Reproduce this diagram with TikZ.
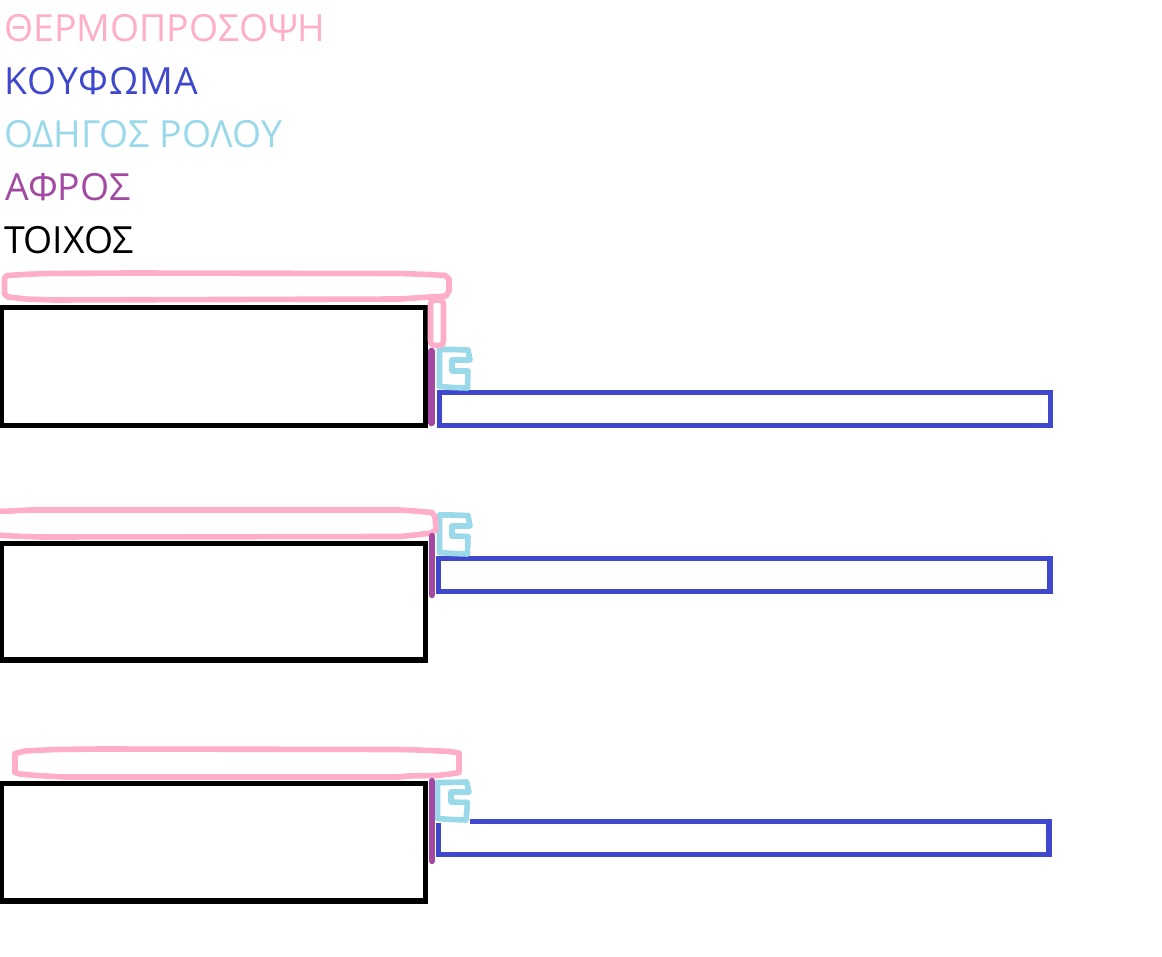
\documentclass[tikz,border=0pt]{standalone}
\usepackage{fontspec}
\setmainfont{Open Sans}
\definecolor{cpink}{HTML}{FFAEC9}
\definecolor{cblue}{HTML}{3F48CC}
\definecolor{ccyan}{HTML}{99D9EA}
\definecolor{cpurple}{HTML}{A349A4}
\tikzset{
  lbl/.style={anchor=base west,inner sep=0pt,font=\fontsize{37.4}{37.4}\selectfont},
  wall/.style={draw=black,line width=5.2pt},
  frameline/.style={draw=cblue,line width=5.2pt,miter limit=10},
  guide/.style={draw=ccyan,line width=5.6pt,line join=round},
  foam/.style={draw=cpurple,line width=6.5pt,line cap=round},
  facade/.style={draw=cpink,line width=5.6pt,line join=round},
}
\begin{document}
\begin{tikzpicture}[x=1pt,y=-1pt]
\fill[white,use as bounding box] (0,0) rectangle (1162,957);
\node[lbl,text=cpink] (t1) at (4,42) {ΘΕΡΜΟΠΡΟΣΟΨΗ};
\node[lbl,text=cblue] (t2) at (4,95) {\addfontfeature{LetterSpace=3}ΚΟΥΦΩΜΑ};
\node[lbl,text=ccyan] (t3) at (4,148) {ΟΔΗΓΟΣ ΡΟΛΟΥ};
\node[lbl,text=cpurple] (t4) at (5,201) {ΑΦΡΟΣ};
\node[lbl,text=black] (t5) at (4,253.5) {ΤΟΙΧΟΣ};
% walls
\draw[wall] (1.5,307.5) rectangle (425.5,425.5);
\draw[wall] (1.5,543.5) rectangle (425.5,660);
\draw[wall] (1.5,783.5) rectangle (425.5,901);
% frames
\draw[frameline] (439.5,392.5) rectangle (1050.5,425.5);
\draw[frameline] (438.5,558.5) rectangle (1050,591.5);
\draw[frameline] (470,821.5) -- (1049,821.5) -- (1049,854.5) -- (438.5,854.5) -- (438.5,823);
% guides
\draw[guide] (439.5,349.5) -- (452.5,349.5) -- (468,350) -- (470,360) -- (452,360) -- (452,371) -- (468,371) -- (467.5,388) -- (453,387.5) -- (439.5,386.5) -- cycle;
\draw[guide] (439.5,515) -- (452.5,515) -- (468,515.5) -- (470,526) -- (452,526) -- (452,536) -- (468,536.5) -- (467.5,554) -- (453,553.5) -- (439.5,552.5) -- cycle;
\draw[guide] (437.5,782.5) -- (451.5,782.5) -- (466.5,782) -- (469,792) -- (451,792) -- (451,802) -- (467.5,802.5) -- (466,820) -- (451.5,819.5) -- (437.5,818.5) -- cycle;
% facades
\draw[facade] (4.5,278) -- (7,275.5) -- (24,274.5) -- (45,273.5) -- (130,273) -- (400,273.5) -- (428,274.5) -- (445,275.5) -- (449,279) -- (449,291) -- (446,296) -- (430,297) -- (400,299) -- (54,300) -- (26,299) -- (8,297) -- (4.5,294) -- cycle;
\draw[facade,rounded corners=4pt] (430.5,300) rectangle (443.5,345.5);
\draw[facade] (-3,511.5) -- (10,511) -- (30,510) -- (400,510) -- (415,511) -- (432,512.5) -- (435,517) -- (436,530) -- (431,533) -- (415,535) -- (405,536) -- (400,536.5) -- (40,537) -- (12,536) -- (-3,535);
\draw[facade] (15,753.5) -- (25,751) -- (55,749.5) -- (100,749) -- (400,749.5) -- (418,750) -- (440,751) -- (450,751.5) -- (459,753) -- (459,772.5) -- (450,774) -- (437,775.5) -- (408,776) -- (400,777) -- (100,777) -- (65,777) -- (37,775.5) -- (20,774) -- (15,772.5) -- cycle;
% foam
\draw[foam] (431.5,351) -- (431.5,423);
\draw[foam] (432,536) -- (432,595);
\draw[foam] (432,781) -- (432,861);
\end{tikzpicture}
\end{document}
